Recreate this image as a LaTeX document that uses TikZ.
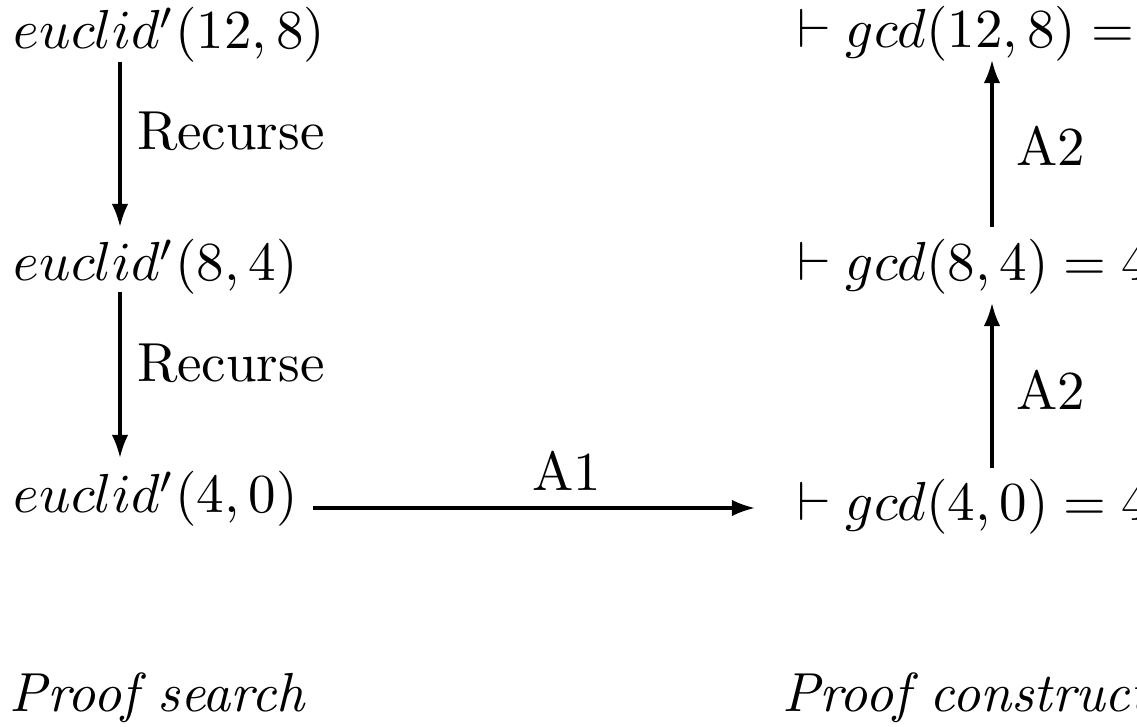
\documentclass[tikz,border=0pt]{standalone}
\usetikzlibrary{arrows.meta}
\tikzset{
  lbl/.style={inner sep=0pt, outer sep=0pt, anchor=base west},
  arr/.style={line width=0.56pt, -{Latex[length=4.2pt,width=3pt]}},
}
\begin{document}
\begin{tikzpicture}[x=0.181818pt,y=-0.181818pt]
\useasboundingbox (0,0) rectangle (1137,727);
\clip (0,0) rectangle (1137,727);
% left column
\node[lbl] (e1) at (14,49) {$euclid'(12,8)$};
\node[lbl] (e2) at (14,281) {$euclid'(8,4)$};
\node[lbl] (e3) at (14,513) {$euclid'(4,0)$};
% right column
\node[lbl] (g1) at (797,48) {$\vdash gcd(12,8) = 4$};
\node[lbl] (g2) at (797,281) {$\vdash gcd(8,4) = 4$};
\node[lbl] (g3) at (797,521) {$\vdash gcd(4,0) = 4$};
% labels
\node[lbl] (r1) at (137,150) {Recurse};
\node[lbl] (r2) at (137,382) {Recurse};
\node[lbl] (a2a) at (1016,166) {A2};
\node[lbl] (a2b) at (1016,410) {A2};
\node[inner sep=0pt, anchor=base] (a1) at (567,491) {A1};
\node[lbl] (ps) at (10,711) {\textit{Proof search}};
\node[lbl] (pc) at (782,711) {\textit{Proof construction}};
% connectors
\draw[arr] ([shift={(106,13)}]e1.base west) -- ([shift={(106,-54)}]e2.base west);
\draw[arr] ([shift={(106,11)}]e2.base west) -- ([shift={(106,-55)}]e3.base west);
\draw[arr] ([shift={(299,-5)}]e3.base west) -- ([shift={(-42,-13)}]g3.base west);
\draw[arr] ([shift={(195,-53)}]g3.base west) -- ([shift={(195,22)}]g2.base west);
\draw[arr] ([shift={(195,-54)}]g2.base west) -- ([shift={(195,12)}]g1.base west);
\end{tikzpicture}
\end{document}
